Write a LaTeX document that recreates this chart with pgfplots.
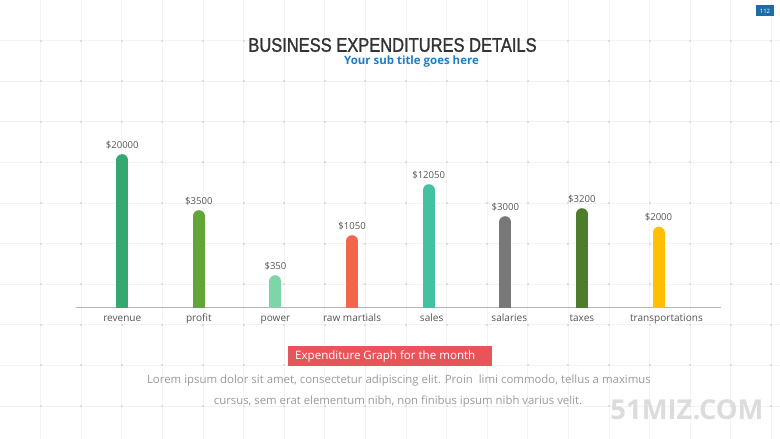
\documentclass[border=0pt]{standalone}
\usepackage{fontspec}
\setmainfont{Open Sans}
\newfontfamily\titlefont[FakeStretch=0.84,FakeBold=1.3]{Liberation Sans}
\usepackage{pgfplots}
\pgfplotsset{compat=1.18}
\definecolor{gridc}{HTML}{F3F3F3}
\definecolor{dotc}{HTML}{DDDDDD}
\definecolor{labc}{HTML}{555555}
\definecolor{axc}{HTML}{B5B5B5}
\definecolor{c1}{HTML}{35A770}
\definecolor{c2}{HTML}{63A537}
\definecolor{c3}{HTML}{7ED6A8}
\definecolor{c4}{HTML}{F26649}
\definecolor{c5}{HTML}{45C0A1}
\definecolor{c6}{HTML}{787878}
\definecolor{c7}{HTML}{4B7D2B}
\definecolor{c8}{HTML}{FFC000}
\definecolor{titlec}{HTML}{333333}
\definecolor{subc}{HTML}{1E7DBE}
\definecolor{redc}{HTML}{E8545A}
\definecolor{bodyc}{HTML}{9A9A9A}
\definecolor{wmc}{HTML}{DCDCDC}
\definecolor{pgc}{HTML}{1B6DA8}
\begin{document}
\begin{tikzpicture}
\begin{scope}[x=1bp,y=-1bp]
\path[use as bounding box, fill=white] (0,0) rectangle (780,439);
\foreach \i in {1,...,19} \draw[gridc, line width=0.8bp] (\i*40.6,0) -- (\i*40.6,439);
\foreach \j in {1,...,10} \draw[gridc, line width=0.8bp] (0,\j*40.6) -- (780,\j*40.6);
\foreach \i in {1,...,19} \foreach \j in {1,...,10} \fill[dotc] (\i*40.6-1,\j*40.6-1) rectangle +(2,2);
\node[font=\titlefont\fontsize{19.7}{20}\selectfont, text=titlec, inner sep=0] at (392.5,45) {BUSINESS EXPENDITURES DETAILS};
\node[font=\bfseries\fontsize{11.5}{13}\selectfont, text=subc, inner sep=0] at (411.5,62) {Your sub title goes here};
\fill[redc] (288,346) rectangle (492,366);
\node[font=\fontsize{11.6}{13}\selectfont, text=white, inner sep=0, anchor=west] at (295,356) {Expenditure Graph for the month};
\node[font=\fontsize{11.45}{13}\selectfont, text=bodyc, inner sep=0] at (399,380.5) {Lorem ipsum dolor sit amet, consectetur adipiscing elit. Proin\ \ limi commodo, tellus a maximus};
\node[font=\fontsize{11.4}{13}\selectfont, text=bodyc, inner sep=0] at (398,402) {cursus, sem erat elementum nibh, non finibus ipsum nibh varius velit.};
\node[font=\bfseries\fontsize{27.5}{28}\selectfont, text=wmc, inner sep=0] at (687,410) {51MIZ.COM};
\fill[pgc] (756,5.5) rectangle (774,16.5);
\node[font=\fontsize{6}{7}\selectfont, text=white, inner sep=0] at (765,11) {112};
\end{scope}
\begin{axis}[
  at={(76bp,-307.7bp)}, anchor=south west,
  scale only axis, width=644.7bp, height=175bp,
  xmin=-0.604, xmax=7.812, ymin=0, ymax=175,
  axis y line=none, axis x line*=bottom,
  x axis line style={-, draw=axc, line width=1bp},
  xtick={0,...,7},
  xticklabels={revenue,profit,power,raw martials,{\hspace{6bp}sales},{\hspace{8bp}salaries},taxes,{\hspace{16bp}transportations}},
  major tick length=0,
  xticklabel style={font=\fontsize{10.1}{11}\selectfont, text=labc, anchor=base, yshift=-14bp},
  every node near coord/.style={font=\fontsize{9.6}{11}\selectfont, text=labc, anchor=base, yshift=12bp},
  nodes near coords, point meta=explicit symbolic,
  every axis plot/.append style={ycomb, line width=12bp, line cap=round, mark=none},
]
\addplot[c1] coordinates {(0,147.5)[\$20000]};
\addplot[c2] coordinates {(1,91.5)[\$3500]};
\addplot[c3] coordinates {(2,26.5)[\$350]};
\addplot[c4] coordinates {(3,66.5)[\$1050]};
\addplot[c5] coordinates {(4,117.5)[\$12050]};
\addplot[c6] coordinates {(5,85.5)[\$3000]};
\addplot[c7] coordinates {(6,93.5)[\$3200]};
\addplot[c8] coordinates {(7,75)[\$2000]};
\end{axis}
\end{tikzpicture}
\end{document}
